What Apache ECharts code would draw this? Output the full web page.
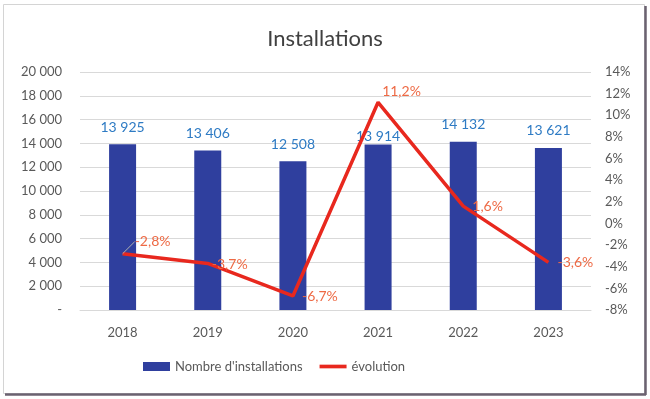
<!DOCTYPE html>
<html>
<head>
<meta charset="utf-8">
<script src="https://cdn.jsdelivr.net/npm/echarts@6/dist/echarts.min.js"></script>
<style>html,body{margin:0;padding:0;background:#fff;}#c{width:650px;height:399px;}</style>
</head>
<body>
<div id="c"></div>
<script>
const categories = ['2018', '2019', '2020', '2021', '2022', '2023'];
const installations = [13925, 13406, 12508, 13914, 14132, 13621];
const evolution = [-2.8, -3.7, -6.7, 11.2, 1.6, -3.6];
const leftTicks = { min: 0, max: 20000, interval: 2000 };
const rightTicks = { min: -8, max: 14, interval: 2 };

const FONT = 'Lato, "Noto Sans", sans-serif';
function fmtThousands(v) {
  if (v === 0) return '-';
  return String(v).replace(/\B(?=(\d{3})+(?!\d))/g, ' ');
}
function fmtPct(v) { return String(v).replace('.', ',') + '%'; }

const barLabelDist = [10, 10, 10, 1, 10, 10];
const lineLabelShift = [[12, -12], [4, 1], [9, 1], [4, -11], [9, 0], [9, 0]];

const chart = echarts.init(document.getElementById('c'), null, { renderer: 'canvas' });
chart.setOption({
  animation: false,
  backgroundColor: '#ffffff',
  textStyle: { fontFamily: FONT },
  graphic: [
    { type: 'rect', shape: { x: 3.5, y: 4.5, width: 641, height: 389 }, style: { fill: 'none', stroke: '#d4d4d4', lineWidth: 1 }, z: -1 },
    { type: 'line', shape: { x1: 645.5, y1: 6, x2: 645.5, y2: 395 }, style: { stroke: '#6b6270', lineWidth: 2.5 } },
    { type: 'line', shape: { x1: 5, y1: 394.5, x2: 646, y2: 394.5 }, style: { stroke: '#6b6270', lineWidth: 2.5 } }
  ],
  title: {
    text: 'Installations', left: 'center', top: 23,
    textStyle: { fontFamily: FONT, fontSize: 22, fontWeight: 'normal', color: '#404040' }
  },
  legend: {
    bottom: 21, left: 138, itemGap: 17, itemWidth: 27, itemHeight: 9,
    textStyle: { fontFamily: FONT, fontSize: 13, color: '#595959' },
    data: [
      { name: "Nombre d'installations", icon: 'rect', itemStyle: { color: '#2F3F9E' } },
      { name: 'évolution', icon: 'path://M0,0L22,0L22,3L0,3Z', itemStyle: { color: '#E8281E' } }
    ]
  },
  grid: { left: 80, right: 59, top: 72, bottom: 89 },
  xAxis: {
    type: 'category', data: categories,
    axisLine: { show: true, lineStyle: { color: '#d9d9d9' } },
    axisTick: { show: false },
    axisLabel: { fontFamily: FONT, fontSize: 13, color: '#595959', margin: 16 }
  },
  yAxis: [
    {
      type: 'value', min: leftTicks.min, max: leftTicks.max, interval: leftTicks.interval,
      axisLine: { show: false }, axisTick: { show: false },
      splitLine: { lineStyle: { color: '#d9d9d9', width: 1 } },
      axisLabel: { fontFamily: FONT, fontSize: 13, color: '#595959', margin: 18, formatter: fmtThousands }
    },
    {
      type: 'value', min: rightTicks.min, max: rightTicks.max, interval: rightTicks.interval,
      axisLine: { show: false }, axisTick: { show: false }, splitLine: { show: false },
      axisLabel: { fontFamily: FONT, fontSize: 13, color: '#595959', margin: 14, formatter: v => v + '%' }
    }
  ],
  series: [
    {
      name: "Nombre d'installations", type: 'bar', yAxisIndex: 0, barWidth: 27,
      itemStyle: { color: '#2F3F9E' },
      data: installations.map((v, i) => ({
        value: v,
        label: { distance: barLabelDist[i] }
      })),
      label: {
        show: true, position: 'top', fontFamily: FONT, fontSize: 14, color: '#2E7BC4',
        formatter: p => fmtThousands(p.value)
      },
      z: 2
    },
    {
      name: 'évolution', type: 'line', yAxisIndex: 1,
      showSymbol: true, symbol: 'circle', symbolSize: 0.1,
      lineStyle: { color: '#E8281E', width: 3.5 },
      itemStyle: { color: '#E8281E' },
      data: evolution.map((v, i) => ({
        value: v,
        labelLine: { show: i === 0 }
      })),
      label: {
        show: true, position: 'right', distance: 0, fontFamily: FONT, fontSize: 14, color: '#EE6A45',
        formatter: p => fmtPct(p.value)
      },
      labelLine: { show: false, lineStyle: { color: '#b0b0b0', width: 1 } },
      labelLayout: function (params) {
        const s = lineLabelShift[params.dataIndex];
        return { dx: s[0], dy: s[1] };
      },
      z: 3
    }
  ]
});
</script>
</body>
</html>
